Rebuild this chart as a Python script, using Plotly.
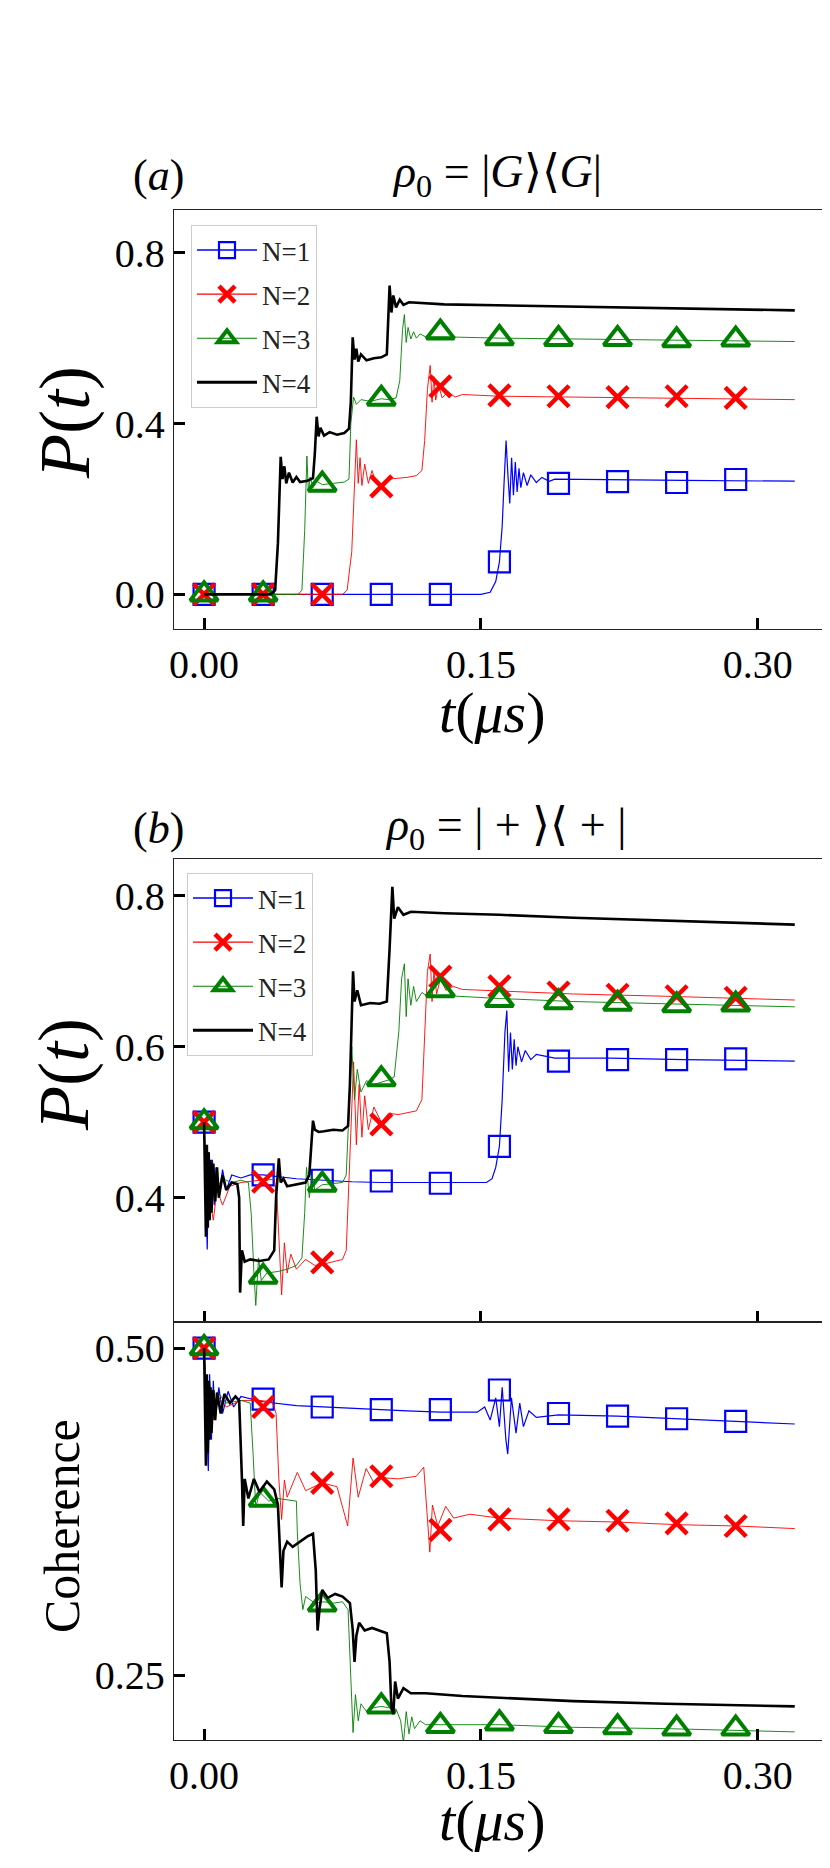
import plotly.graph_objects as go

# ---------------- data ----------------
t_markers = [0, 0.032, 0.064, 0.096, 0.128, 0.16, 0.192, 0.224, 0.256, 0.288]

# panel (a): rho0 = |G><G|   (t in microseconds, P(t))
a_n1 = [(0,0),(0.150,0),(0.155,0.005),(0.158,0.03),(0.160,0.076),(0.1615,0.16),(0.1625,0.26),(0.1636,0.36),
        (0.1646,0.28),(0.1656,0.213),(0.1666,0.32),(0.1676,0.232),(0.1686,0.31),(0.1696,0.24),(0.1706,0.295),
        (0.1716,0.25),(0.173,0.285),(0.175,0.255),(0.177,0.28),(0.18,0.262),(0.183,0.274),(0.187,0.265),
        (0.19,0.27),(0.22,0.268),(0.26,0.267),(0.32,0.265)]
a_n2 = [(0,0),(0.075,0),(0.0775,0.01),(0.080,0.10),(0.0825,0.362),(0.0835,0.26),(0.0845,0.32),(0.0855,0.255),
        (0.087,0.305),(0.089,0.26),(0.091,0.29),(0.093,0.262),(0.096,0.255),(0.100,0.27),(0.105,0.272),
        (0.110,0.274),(0.115,0.278),(0.118,0.29),(0.1195,0.36),(0.121,0.48),(0.1225,0.536),(0.1235,0.45),
        (0.1245,0.51),(0.1255,0.455),(0.127,0.49),(0.129,0.46),(0.132,0.475),(0.136,0.462),(0.14,0.468),
        (0.16,0.464),(0.20,0.462),(0.25,0.46),(0.32,0.456)]
a_n3 = [(0,0),(0.051,0),(0.053,0.01),(0.0545,0.15),(0.0557,0.324),(0.0565,0.24),(0.0575,0.275),(0.059,0.25),
        (0.061,0.265),(0.064,0.257),(0.070,0.260),(0.076,0.263),(0.0785,0.27),(0.0795,0.40),(0.081,0.462),
        (0.0825,0.445),(0.085,0.456),(0.090,0.452),(0.096,0.458),(0.100,0.456),(0.104,0.46),(0.106,0.50),
        (0.1075,0.62),(0.1085,0.655),(0.1095,0.59),(0.1105,0.625),(0.112,0.598),(0.1135,0.615),(0.115,0.600),
        (0.117,0.61),(0.12,0.603),(0.13,0.603),(0.16,0.600),(0.20,0.598),(0.25,0.596),(0.32,0.592)]
a_n4 = [(0,0),(0.036,0),(0.0385,0.01),(0.040,0.12),(0.0415,0.322),(0.0425,0.27),(0.0435,0.30),(0.0445,0.26),
        (0.046,0.285),(0.048,0.262),(0.050,0.275),(0.052,0.263),(0.056,0.266),(0.059,0.272),(0.0600,0.33),
        (0.061,0.416),(0.062,0.37),(0.063,0.39),(0.065,0.372),(0.068,0.38),(0.072,0.374),(0.076,0.378),
        (0.0785,0.388),(0.0795,0.45),(0.0805,0.602),(0.0815,0.55),(0.0825,0.575),(0.0835,0.545),(0.085,0.562),
        (0.088,0.548),(0.092,0.553),(0.096,0.555),(0.099,0.562),(0.1000,0.65),(0.1005,0.723),(0.1015,0.66),
        (0.1025,0.70),(0.104,0.672),(0.106,0.69),(0.108,0.678),(0.111,0.684),(0.13,0.679),(0.16,0.677),
        (0.20,0.673),(0.25,0.670),(0.32,0.665)]
a_m1 = [0, 0, 0, 0, 0, 0.076, 0.26, 0.264, 0.262, 0.269]
a_m2 = [0, 0, 0, 0.253, 0.487, 0.466, 0.464, 0.462, 0.464, 0.46]
a_m3 = [0, 0, 0.257, 0.458, 0.613, 0.600, 0.598, 0.598, 0.595, 0.597]

# panel (b): rho0 = |+><+|, P(t)
b_n1 = [(0,0.5),(0.0008,0.42),(0.0017,0.331),(0.0025,0.46),(0.0035,0.38),(0.0045,0.45),(0.0055,0.39),
        (0.0065,0.44),(0.008,0.40),(0.010,0.437),(0.012,0.41),(0.015,0.43),(0.02,0.426),(0.025,0.43),
        (0.032,0.43),(0.05,0.425),(0.064,0.423),(0.08,0.421),(0.096,0.42),(0.11,0.42),(0.128,0.419),
        (0.14,0.419),(0.15,0.419),(0.153,0.42),(0.156,0.425),(0.158,0.44),(0.160,0.468),(0.1615,0.53),
        (0.163,0.62),(0.164,0.648),(0.165,0.567),(0.166,0.619),(0.167,0.57),(0.168,0.61),(0.169,0.575),
        (0.170,0.60),(0.172,0.58),(0.174,0.595),(0.177,0.583),(0.18,0.59),(0.19,0.585),(0.22,0.585),
        (0.26,0.583),(0.32,0.581)]
b_n2 = [(0,0.5),(0.0008,0.43),(0.0017,0.36),(0.003,0.40),(0.005,0.37),(0.007,0.41),(0.010,0.39),
        (0.014,0.415),(0.02,0.42),(0.03,0.423),(0.038,0.424),(0.0395,0.40),(0.041,0.31),(0.042,0.271),
        (0.0435,0.34),(0.045,0.30),(0.047,0.325),(0.05,0.305),(0.055,0.318),(0.06,0.31),(0.065,0.312),
        (0.07,0.315),(0.075,0.318),(0.077,0.33),(0.079,0.45),(0.081,0.58),(0.0825,0.47),(0.084,0.55),
        (0.0855,0.48),(0.087,0.535),(0.089,0.49),(0.092,0.52),(0.096,0.50),(0.10,0.512),(0.105,0.51),
        (0.11,0.512),(0.115,0.515),(0.118,0.53),(0.1195,0.62),(0.121,0.70),(0.1225,0.723),(0.1235,0.66),
        (0.1245,0.70),(0.126,0.67),(0.128,0.69),(0.131,0.675),(0.135,0.68),(0.14,0.676),(0.16,0.674),
        (0.20,0.670),(0.25,0.667),(0.32,0.662)]
b_n3 = [(0,0.5),(0.001,0.42),(0.002,0.38),(0.004,0.44),(0.006,0.41),(0.01,0.425),(0.015,0.42),(0.02,0.423),
        (0.024,0.42),(0.0255,0.38),(0.027,0.30),(0.028,0.257),(0.0295,0.32),(0.031,0.29),(0.034,0.30),
        (0.04,0.302),(0.045,0.305),(0.05,0.31),(0.053,0.32),(0.0545,0.38),(0.0555,0.44),(0.057,0.40),
        (0.0585,0.43),(0.06,0.41),(0.064,0.417),(0.07,0.419),(0.075,0.42),(0.077,0.43),(0.0785,0.52),
        (0.080,0.60),(0.0815,0.53),(0.083,0.57),(0.085,0.54),(0.088,0.555),(0.092,0.55),(0.096,0.553),
        (0.1,0.556),(0.103,0.56),(0.1055,0.62),(0.107,0.69),(0.1085,0.71),(0.1095,0.64),(0.1105,0.69),
        (0.112,0.655),(0.1135,0.68),(0.115,0.66),(0.118,0.672),(0.122,0.665),(0.13,0.668),(0.16,0.664),
        (0.20,0.660),(0.25,0.657),(0.32,0.653)]
b_n4 = [(0,0.5),(0.0005,0.44),(0.001,0.348),(0.0015,0.47),(0.002,0.36),(0.0025,0.46),(0.003,0.37),
        (0.0035,0.45),(0.004,0.38),(0.005,0.445),(0.006,0.395),(0.007,0.44),(0.008,0.40),(0.010,0.43),
        (0.012,0.41),(0.015,0.42),(0.018,0.418),(0.019,0.40),(0.0195,0.274),(0.0205,0.33),(0.022,0.315),
        (0.025,0.318),(0.03,0.316),(0.035,0.318),(0.038,0.33),(0.039,0.40),(0.0405,0.452),(0.0415,0.42),
        (0.043,0.425),(0.045,0.415),(0.05,0.418),(0.055,0.42),(0.057,0.43),(0.058,0.47),(0.059,0.502),
        (0.060,0.49),(0.062,0.487),(0.065,0.488),(0.07,0.49),(0.075,0.489),(0.078,0.495),(0.079,0.55),
        (0.0807,0.70),(0.0815,0.66),(0.083,0.675),(0.085,0.655),(0.09,0.658),(0.095,0.657),(0.099,0.66),
        (0.1005,0.73),(0.102,0.812),(0.103,0.77),(0.105,0.785),(0.108,0.775),(0.112,0.779),(0.13,0.777),
        (0.16,0.775),(0.2,0.771),(0.25,0.767),(0.32,0.762)]
b_m1 = [0.5, 0.430, 0.423, 0.422, 0.419, 0.468, 0.581, 0.583, 0.583, 0.584]
b_m2 = [0.5, 0.421, 0.314, 0.497, 0.693, 0.680, 0.672, 0.669, 0.667, 0.665]
b_m3 = [0.5, 0.295, 0.417, 0.557, 0.675, 0.662, 0.659, 0.657, 0.655, 0.656]

# panel (b, lower): coherence
c_n1 = [(0,0.5),(0.0008,0.47),(0.0015,0.44),(0.0023,0.406),(0.003,0.48),(0.004,0.43),(0.005,0.475),
        (0.006,0.445),(0.008,0.47),(0.010,0.45),(0.013,0.467),(0.016,0.455),(0.02,0.463),(0.032,0.459),
        (0.05,0.456),(0.064,0.455),(0.08,0.454),(0.096,0.453),(0.11,0.452),(0.128,0.451),(0.14,0.451),
        (0.148,0.451),(0.152,0.455),(0.155,0.445),(0.158,0.462),(0.160,0.44),(0.1615,0.47),(0.1635,0.43),
        (0.1645,0.419),(0.1665,0.462),(0.169,0.435),(0.171,0.458),(0.173,0.44),(0.176,0.452),(0.18,0.447),
        (0.192,0.449),(0.224,0.448),(0.256,0.446),(0.288,0.444),(0.32,0.442)]
c_n2 = [(0,0.5),(0.001,0.46),(0.002,0.43),(0.003,0.47),(0.005,0.445),(0.008,0.462),(0.012,0.455),
        (0.02,0.46),(0.03,0.46),(0.037,0.459),(0.039,0.45),(0.0405,0.40),(0.042,0.369),(0.0435,0.399),
        (0.045,0.386),(0.0505,0.405),(0.055,0.391),(0.064,0.397),(0.072,0.394),(0.0778,0.364),(0.0807,0.416),
        (0.0835,0.386),(0.0878,0.408),(0.092,0.397),(0.096,0.401),(0.105,0.40),(0.115,0.402),(0.119,0.409),
        (0.1223,0.344),(0.1237,0.380),(0.1266,0.364),(0.1309,0.379),(0.1352,0.370),(0.144,0.373),
        (0.16,0.370),(0.192,0.368),(0.224,0.367),(0.256,0.365),(0.288,0.364),(0.32,0.362)]
c_n3 = [(0,0.5),(0.001,0.47),(0.002,0.44),(0.003,0.475),(0.005,0.45),(0.008,0.465),(0.012,0.458),
        (0.02,0.46),(0.025,0.458),(0.0265,0.42),(0.028,0.378),(0.03,0.39),(0.035,0.383),(0.04,0.385),
        (0.045,0.384),(0.05,0.383),(0.0505,0.36),(0.052,0.32),(0.0535,0.30),(0.055,0.31),(0.06,0.305),
        (0.065,0.306),(0.07,0.305),(0.075,0.306),(0.078,0.30),(0.0795,0.25),(0.0807,0.206),(0.082,0.235),
        (0.0835,0.215),(0.085,0.228),(0.088,0.222),(0.092,0.225),(0.096,0.226),(0.1,0.225),(0.104,0.224),
        (0.1065,0.215),(0.108,0.198),(0.1095,0.222),(0.111,0.205),(0.1125,0.218),(0.114,0.209),
        (0.117,0.215),(0.12,0.212),(0.13,0.212),(0.16,0.212),(0.2,0.21),(0.25,0.209),(0.32,0.2065)]
c_n4 = [(0,0.5),(0.0005,0.45),(0.001,0.41),(0.0015,0.48),(0.002,0.42),(0.0025,0.475),(0.003,0.43),
        (0.0035,0.47),(0.004,0.435),(0.005,0.468),(0.006,0.445),(0.007,0.466),(0.009,0.45),(0.011,0.465),
        (0.014,0.458),(0.017,0.463),(0.019,0.46),(0.0205,0.40),(0.0212,0.364),(0.022,0.40),(0.024,0.385),
        (0.027,0.40),(0.03,0.39),(0.034,0.398),(0.038,0.392),(0.04,0.38),(0.0413,0.33),(0.042,0.317),
        (0.043,0.345),(0.045,0.352),(0.048,0.348),(0.052,0.352),(0.056,0.356),(0.059,0.358),(0.0605,0.33),
        (0.0615,0.284),(0.0625,0.30),(0.064,0.315),(0.067,0.309),(0.071,0.312),(0.075,0.31),(0.079,0.305),
        (0.0805,0.285),(0.0815,0.26),(0.0825,0.28),(0.084,0.29),(0.087,0.284),(0.091,0.286),(0.095,0.284),
        (0.099,0.282),(0.1005,0.26),(0.1015,0.225),(0.1025,0.22),(0.1035,0.245),(0.105,0.232),(0.108,0.24),
        (0.112,0.236),(0.12,0.236),(0.14,0.234),(0.17,0.232),(0.2,0.23),(0.25,0.228),(0.32,0.226)]
c_m1 = [0.5, 0.461, 0.455, 0.453, 0.453, 0.468, 0.450, 0.448, 0.446, 0.444]
c_m2 = [0.5, 0.455, 0.397, 0.402, 0.361, 0.369, 0.369, 0.368, 0.366, 0.364]
c_m3 = [0.5, 0.384, 0.304, 0.226, 0.211, 0.213, 0.211, 0.210, 0.209, 0.209]

labels = ["N=1", "N=2", "N=3", "N=4"]
x_ticks = [0, 0.15, 0.30]
x_ticktext = ["0.00", "0.15", "0.30"]
a_yticks, a_yticktext = [0, 0.4, 0.8], ["0.0", "0.4", "0.8"]
b_yticks, b_yticktext = [0.4, 0.6, 0.8], ["0.4", "0.6", "0.8"]
c_yticks, c_yticktext = [0.25, 0.5], ["0.25", "0.50"]

# ---------------- styling ----------------
FONT = "Liberation Serif"
colors = ["#0000ff", "#ff0000", "#008000", "#000000"]
lwidths = [1.2, 0.9, 0.9, 2.6]
msym = ["square-open", "x-thin-open", "triangle-up-open", None]
msize = [21, 21, 24, 0]
mline = [2.2, 4.5, 4.0, 0]

fig = go.Figure()

panels = [
    ("x", "y", [a_n1, a_n2, a_n3, a_n4], [a_m1, a_m2, a_m3], "legend"),
    ("x2", "y2", [b_n1, b_n2, b_n3, b_n4], [b_m1, b_m2, b_m3], "legend2"),
    ("x3", "y3", [c_n1, c_n2, c_n3, c_n4], [c_m1, c_m2, c_m3], None),
]

for xa, ya, curves, marks, leg in panels:
    for i, cur in enumerate(curves):
        tt = [p[0] for p in cur]
        vv = [p[1] for p in cur]
        fig.add_trace(go.Scatter(x=tt, y=vv, mode="lines", xaxis=xa, yaxis=ya,
                                 line=dict(color=colors[i], width=lwidths[i]),
                                 showlegend=False, hoverinfo="skip"))
        if i < 3:
            fig.add_trace(go.Scatter(x=t_markers, y=marks[i], mode="markers", xaxis=xa, yaxis=ya,
                                     marker=dict(symbol=msym[i], size=msize[i], color=colors[i],
                                                 line=dict(color=colors[i], width=mline[i])),
                                     showlegend=False, hoverinfo="skip", cliponaxis=True))
    if leg:
        for i in range(4):
            kw = dict(mode="lines+markers" if i < 3 else "lines")
            tr = go.Scatter(x=[None], y=[None], xaxis=xa, yaxis=ya, name=labels[i],
                            line=dict(color=colors[i], width=[1.5, 1.2, 1.2, 3][i]),
                            legend=leg, legendgroup=leg + str(i), showlegend=True, **kw)
            if i < 3:
                tr.marker = dict(symbol=msym[i], size=msize[i], color=colors[i],
                                 line=dict(color=colors[i], width=mline[i]))
            fig.add_trace(tr)

W, H = 830, 1868
L, R, T, B = 166, 15, 202, 136
PH = H - T - B


def py(pix):
    return (H - B - pix) / PH


def px(pix):
    return (pix - L) / (W - L - R)


xr = [-0.0163, 0.3353]
common_x = dict(range=xr, tickvals=x_ticks, ticktext=x_ticktext, ticks="inside", ticklen=11,
                tickwidth=3, tickcolor="black", showline=True, linecolor="#222", linewidth=1.3,
                mirror=True, showgrid=False, zeroline=False,
                tickfont=dict(family=FONT, size=40, color="black"))
common_y = dict(ticks="inside", ticklen=11, tickwidth=3, tickcolor="black", showline=True,
                linecolor="#222", linewidth=1.3, mirror=True, showgrid=False, zeroline=False,
                tickfont=dict(family=FONT, size=40, color="black"))

leg_common = dict(xanchor="left", yanchor="top", bgcolor="rgba(255,255,255,0.85)",
                  bordercolor="#cccccc", borderwidth=1, font=dict(family=FONT, size=27, color="#222"),
                  tracegroupgap=6, itemwidth=60, traceorder="grouped")

fig.update_layout(
    width=W, height=H, margin=dict(l=L, r=R, t=T, b=B),
    paper_bgcolor="white", plot_bgcolor="white",
    xaxis=dict(common_x, anchor="y"),
    xaxis2=dict(common_x, anchor="y2", showticklabels=False),
    xaxis3=dict(common_x, anchor="y3"),
    yaxis=dict(common_y, domain=[py(621), 1.0], range=[-0.081, 0.90], tickvals=a_yticks,
               ticktext=a_yticktext, anchor="x"),
    yaxis2=dict(common_y, domain=[py(1314), py(851)], range=[0.235, 0.849], tickvals=b_yticks,
                ticktext=b_yticktext, anchor="x2"),
    yaxis3=dict(common_y, domain=[0, py(1314)], range=[0.2003, 0.520], tickvals=c_yticks,
                ticktext=c_yticktext, anchor="x3"),
    legend=dict(leg_common, x=px(183), y=py(217)),
    legend2=dict(leg_common, x=px(179), y=py(865)),
    showlegend=True,
)

ann_font = dict(family=FONT, size=46, color="black")
annotations = [
    dict(text="(<i>a</i>)", x=px(150), y=py(167), font=dict(family=FONT, size=44, color="black")),
    dict(text="<i>ρ</i><sub>0</sub> = |<i>G</i>⟩⟨<i>G</i>|", x=px(489), y=py(167), font=ann_font),
    dict(text="(<i>b</i>)", x=px(150), y=py(820), font=dict(family=FONT, size=44, color="black")),
    dict(text="<i>ρ</i><sub>0</sub> = | + ⟩⟨ + |", x=px(497), y=py(820), font=ann_font),
]
for a in annotations:
    fig.add_annotation(xref="paper", yref="paper", showarrow=False, xanchor="center",
                       yanchor="middle", **a)

xl_font = dict(family=FONT, size=58, color="black")
fig.add_annotation(text="<i>t</i>(<i>μs</i>)", xref="paper", yref="paper", x=px(484), y=py(704),
                   showarrow=False, xanchor="center", yanchor="middle", font=xl_font)
fig.add_annotation(text="<i>t</i>(<i>μs</i>)", xref="paper", yref="paper", x=px(484), y=py(1812),
                   showarrow=False, xanchor="center", yanchor="middle", font=xl_font)
yl_font = dict(family=FONT, size=72, color="black")
fig.add_annotation(text="<i>P</i>(<i>t</i>)", xref="paper", yref="paper", x=px(57), y=py(414),
                   showarrow=False, xanchor="center", yanchor="middle", textangle=-90, font=yl_font)
fig.add_annotation(text="<i>P</i>(<i>t</i>)", xref="paper", yref="paper", x=px(56), y=py(1067),
                   showarrow=False, xanchor="center", yanchor="middle", textangle=-90, font=yl_font)
fig.add_annotation(text="Coherence", xref="paper", yref="paper", x=px(54), y=py(1518),
                   showarrow=False, xanchor="center", yanchor="middle", textangle=-90,
                   font=dict(family=FONT, size=50, color="black"))

fig.write_html("out.html")
